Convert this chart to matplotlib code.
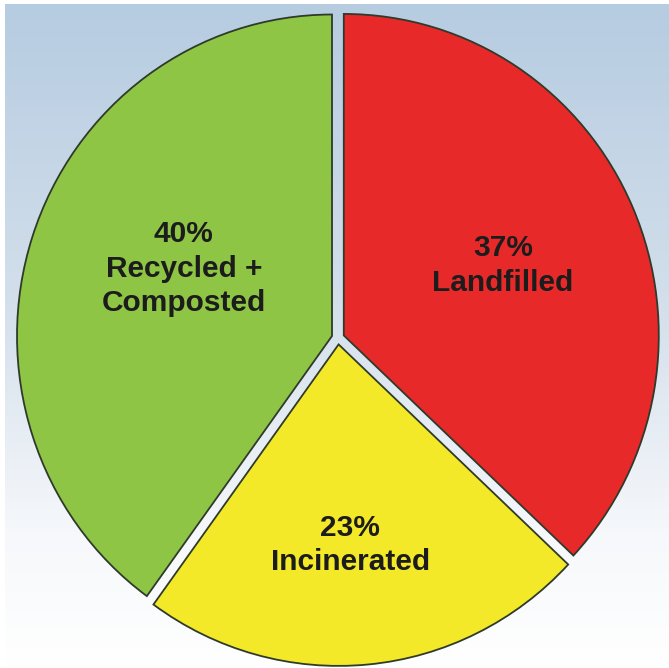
import numpy as np
import matplotlib
matplotlib.use("Agg")
from matplotlib import pyplot as plt
from matplotlib.colors import LinearSegmentedColormap

# waste management shares (percent)
labels = ["Landfilled", "Incinerated", "Recycled +\nComposted"]
shares = [37, 23, 40]
colors = ["#e8292a", "#f4e928", "#8ec545"]

# label placement inside each wedge: distance from centre, angle tweak (deg)
label_dist = [0.55, 0.625, 0.515]
label_tweak = [0, -2, -6]

explode = 0.02

fig = plt.figure(figsize=(6.69, 6.68), dpi=100)
ax = fig.add_axes([0, 0, 1, 1])

# pixel -> data mapping (pie slightly taller than wide, like the original)
sx, sy = 315.0, 321.5
cx, cy = 338.0, 338.0
W, H = 669, 668

# background gradient, light steel blue at top fading to white
bg = LinearSegmentedColormap.from_list(
    "bg", [(0.0, "#b6cce1"), (0.45, "#d3dfeb"), (0.8, "#f6f8fb"), (1.0, "#ffffff")])
grad = np.linspace(0, 1, 256).reshape(-1, 1)
ax.imshow(grad, cmap=bg, aspect="auto",
          extent=[(5 - cx) / sx, (W - cx) / sx, (cy - H) / sy, (cy - 4) / sy],
          zorder=0)

wedges, _ = ax.pie(shares, colors=colors, startangle=90, counterclock=False,
                   explode=[explode] * 3, radius=1.0, frame=True,
                   wedgeprops=dict(edgecolor="#2e3a2a", linewidth=1.3))
ax.set_aspect("auto")
ax.set_xlim((0 - cx) / sx, (W - cx) / sx)
ax.set_ylim((cy - H) / sy, (cy - 0) / sy)
ax.axis("off")

for w, lab, val, d, tw in zip(wedges, labels, shares, label_dist, label_tweak):
    ang = np.deg2rad((w.theta1 + w.theta2) / 2 + tw)
    x0, y0 = w.center
    ax.text(x0 + d * np.cos(ang), y0 + d * np.sin(ang), f"{val}%\n{lab}",
            ha="center", va="center", fontsize=21.5, fontweight="bold",
            family=["Liberation Sans", "DejaVu Sans"], color="#1c1c1c",
            linespacing=1.3, zorder=5)

fig.savefig("out.png", dpi=100)
